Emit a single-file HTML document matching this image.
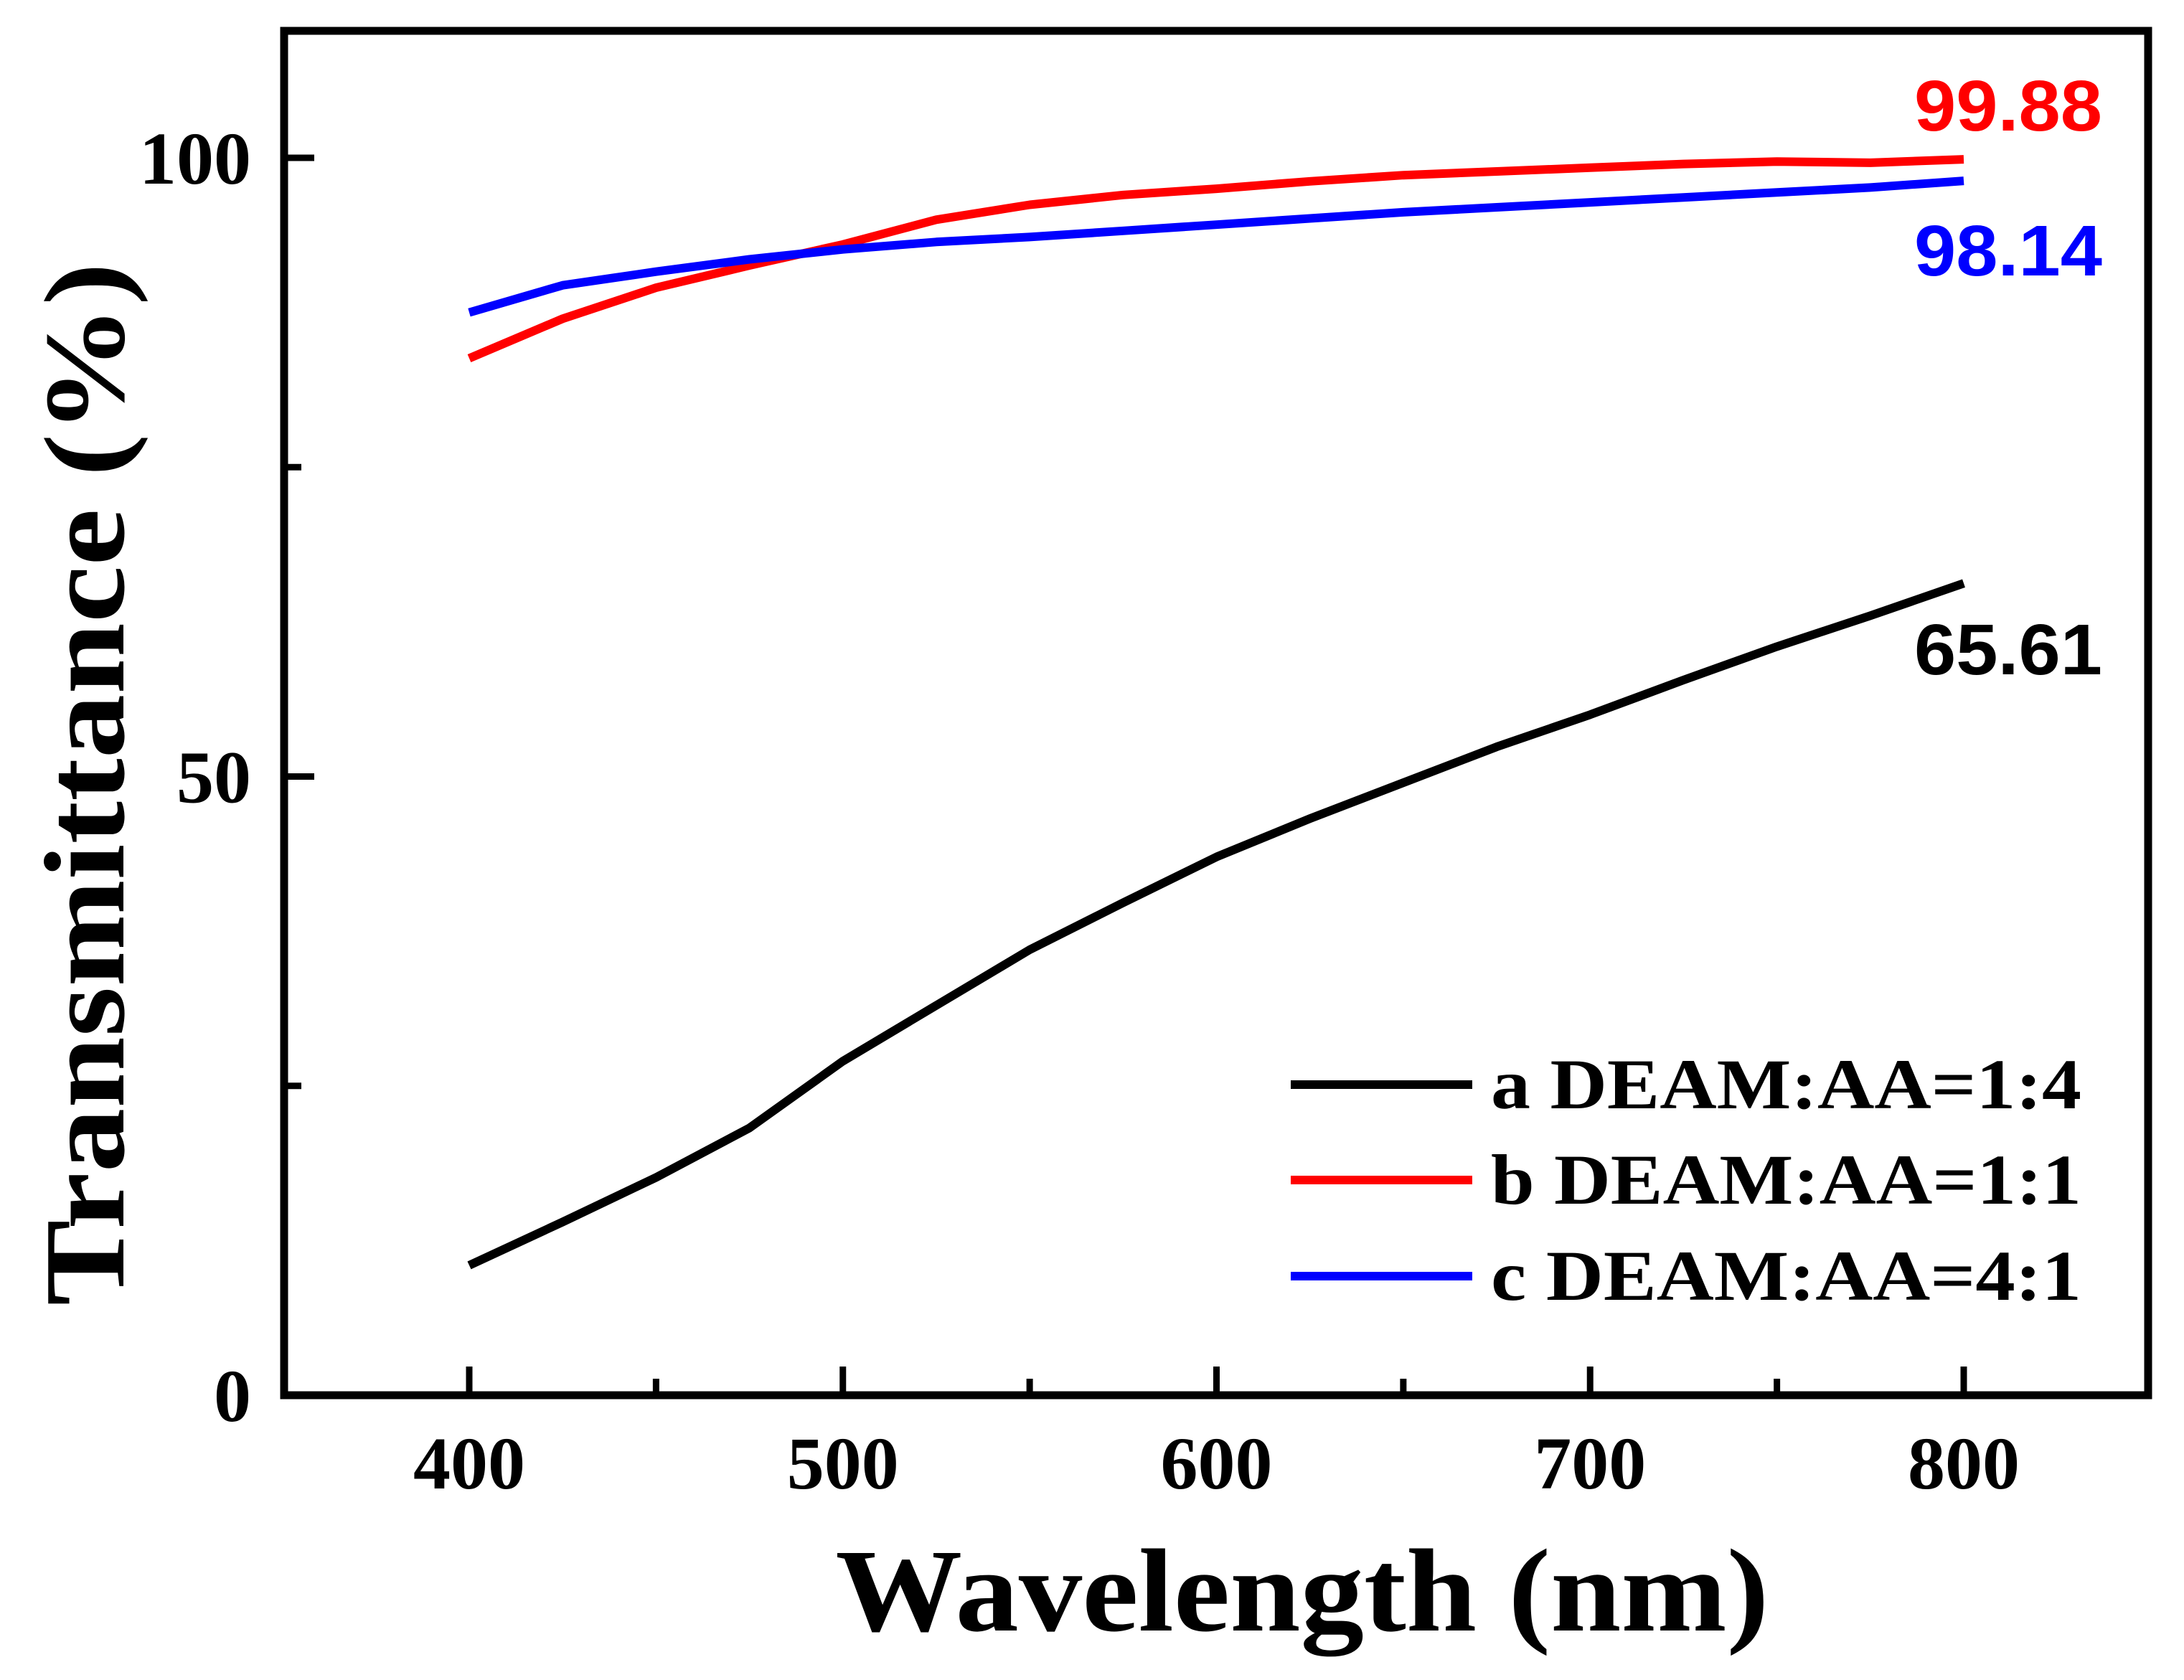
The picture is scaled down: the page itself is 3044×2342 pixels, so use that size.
<!DOCTYPE html>
<html><head><meta charset="utf-8"><style>html,body{margin:0;padding:0;background:#fff}svg{display:block}</style></head>
<body>
<svg id="chart" width="3044" height="2342" viewBox="0 0 3044 2342" xmlns="http://www.w3.org/2000/svg">
<rect x="0" y="0" width="3044" height="2342" fill="#fff"/>
<g id="marks"></g>
<rect x="396" y="43" width="2598" height="1902" fill="none" stroke="#000" stroke-width="11"/>
<g id="axes" font-family="Liberation Serif, serif" font-weight="bold" fill="#000"></g>
<text x="1815" y="2273" font-family="Liberation Serif, serif" font-weight="bold" font-size="165" text-anchor="middle" textLength="1301" lengthAdjust="spacingAndGlyphs">Wavelength (nm)</text>
<text transform="translate(172,1093) rotate(-90)" font-family="Liberation Serif, serif" font-weight="bold" font-size="160" text-anchor="middle" textLength="1454" lengthAdjust="spacingAndGlyphs">Transmittance (%)</text>
<text x="2930" y="182" fill="#f00" font-family="Liberation Sans, sans-serif" font-weight="bold" font-size="100" text-anchor="end" textLength="262" lengthAdjust="spacingAndGlyphs">99.88</text>
<text x="2930" y="384" fill="#00f" font-family="Liberation Sans, sans-serif" font-weight="bold" font-size="100" text-anchor="end" textLength="262" lengthAdjust="spacingAndGlyphs">98.14</text>
<text x="2930" y="940" fill="#000" font-family="Liberation Sans, sans-serif" font-weight="bold" font-size="100" text-anchor="end" textLength="262" lengthAdjust="spacingAndGlyphs">65.61</text>
<g id="legend" font-family="Liberation Serif, serif" font-weight="bold" font-size="100"></g>
</svg>
<script>
const wavelengths = [400,425,450,475,500,525,550,575,600,625,650,675,700,725,750,775,800];
const seriesA = [10.5,14,17.6,21.6,27,31.5,36,39.8,43.5,46.6,49.5,52.4,55,57.8,60.5,63,65.61];
const seriesB = [83.8,87,89.5,91.3,93,95,96.2,97,97.5,98.1,98.6,98.9,99.2,99.5,99.7,99.6,99.88];
const seriesC = [87.5,89.7,90.8,91.8,92.6,93.2,93.6,94.1,94.6,95.1,95.6,96,96.4,96.8,97.2,97.6,98.14];
const xTicks = [400,500,600,700,800];
const xMinor = [450,550,650,750];
const yTicks = [0,50,100];
const yMinor = [25,75];
const legendLabels = ['a DEAM:AA=1:4','b DEAM:AA=1:1','c DEAM:AA=4:1'];
const NS='http://www.w3.org/2000/svg';
function xs(v){return 654+(v-400)*(2737-654)/400;}
function ys(v){return 1945-v*(1945-220)/100;}
function mk(tag,attrs,parent){const e=document.createElementNS(NS,tag);for(const k in attrs)e.setAttribute(k,attrs[k]);parent.appendChild(e);return e;}
const marks=document.getElementById('marks'),axes=document.getElementById('axes'),legend=document.getElementById('legend');
const colors=['#000','#f00','#00f'];
[seriesA,seriesB,seriesC].forEach((s,i)=>{
  const pts=s.map((v,j)=>xs(wavelengths[j]).toFixed(1)+','+ys(v).toFixed(1)).join(' ');
  const p=mk('polyline',{points:pts,fill:'none',stroke:colors[i],'stroke-width':12,'stroke-linejoin':'round'},marks);
  
  
});
xTicks.forEach(v=>{
  const l=mk('line',{x1:xs(v),x2:xs(v),y1:1945,y2:1905,stroke:'#000','stroke-width':9},axes);
  
  
  const t=mk('text',{x:xs(v),y:2075,'font-size':104,'text-anchor':'middle'},axes);t.textContent=v;
  
  
});
xMinor.forEach(v=>{
  const l=mk('line',{x1:xs(v),x2:xs(v),y1:1945,y2:1922,stroke:'#000','stroke-width':9},axes);
  
  
});
yTicks.forEach(v=>{
  const l=mk('line',{x1:396,x2:438,y1:ys(v),y2:ys(v),stroke:'#000','stroke-width':9},axes);
  
  
  const t=mk('text',{x:350,y:ys(v)+36,'font-size':104,'text-anchor':'end'},axes);t.textContent=v;
  
  
});
yMinor.forEach(v=>{
  const l=mk('line',{x1:396,x2:420,y1:ys(v),y2:ys(v),stroke:'#000','stroke-width':9},axes);
  
  
});
const legY=[1512,1645,1779];
legendLabels.forEach((lab,i)=>{
  const l=mk('line',{x1:1799,x2:2052,y1:legY[i],y2:legY[i],stroke:colors[i],'stroke-width':12},legend);
  
  
  const t=mk('text',{x:2078,y:legY[i]+33,textLength:823,lengthAdjust:'spacingAndGlyphs'},legend);t.textContent=lab;
  
  
});
</script>
</body></html>
